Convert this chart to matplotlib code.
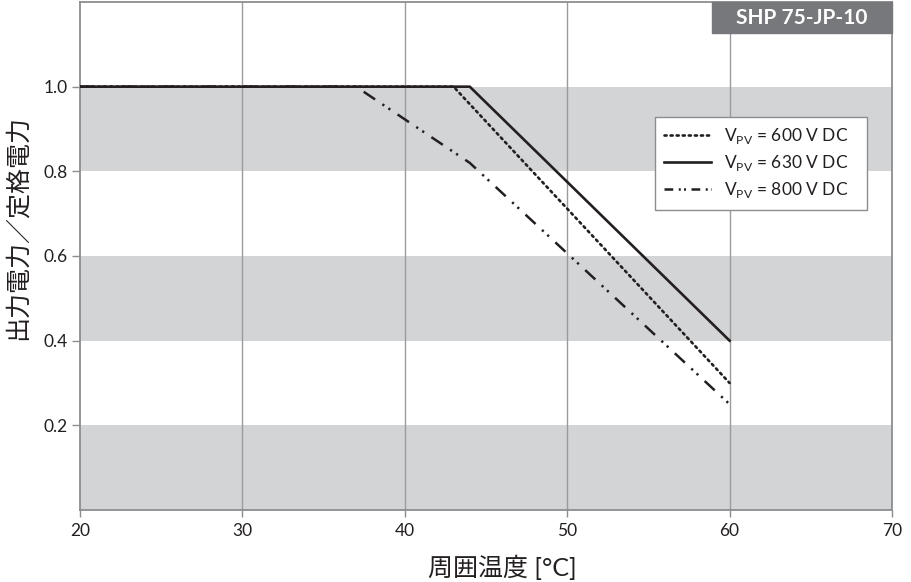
import matplotlib
matplotlib.use("Agg")
import matplotlib.pyplot as plt
from matplotlib.lines import Line2D

plt.rcParams['font.family'] = ['Lato', 'Noto Sans CJK JP', 'DejaVu Sans']

# data
temp_600 = [20, 43, 60]
power_600 = [1.0, 1.0, 0.30]
temp_630 = [20, 44, 60]
power_630 = [1.0, 1.0, 0.40]
temp_800 = [20, 37, 44, 60]
power_800 = [1.0, 1.0, 0.82, 0.25]
labels = ["600", "630", "800"]
x_ticks = [20, 30, 40, 50, 60, 70]
y_ticks = [0.2, 0.4, 0.6, 0.8, 1.0]
bands = [(0.0, 0.2), (0.4, 0.6), (0.8, 1.0)]
title = "SHP 75-JP-10"
xlabel = "周囲温度 [°C]"
ylabel = "出力電力／定格電力"

W, H = 911, 582
fig = plt.figure(figsize=(W / 100, H / 100), dpi=100)
ax = fig.add_axes([80 / W, 1 - 510 / H, (892 - 80) / W, (510 - 2) / H])
ax.set_xlim(20, 70)
ax.set_ylim(0, 1.2)

for lo, hi in bands:
    ax.axhspan(lo, hi, color='#d3d4d6', lw=0, zorder=0)

for xv in x_ticks[1:-1]:
    ax.axvline(xv, color='#9a9b9d', lw=1.0, zorder=1)

dark = '#231f20'
ax.plot(temp_600, power_600, color=dark, lw=1.9, linestyle=(0, (0.8, 1.5)),
        dash_capstyle='round', zorder=3)
ax.plot(temp_630, power_630, color=dark, lw=1.9, linestyle='-', zorder=3)
ax.plot(temp_800, power_800, color=dark, lw=1.8, linestyle=(0, (5.5, 3.5, 0.9, 2.0, 0.9, 3.5)),
        zorder=3)

for s in ax.spines.values():
    s.set_color('#8c8d8f')
    s.set_linewidth(1.3)

ax.set_xticks(x_ticks)
ax.set_xticklabels([str(v) for v in x_ticks])
ax.set_yticks(y_ticks)
ax.set_yticklabels([f"{v:.1f}" for v in y_ticks])
ax.tick_params(axis='both', colors='#8c8d8f', labelcolor='#231f20', labelsize=12.5,
               width=1)
ax.tick_params(axis='x', pad=4, length=5)
ax.tick_params(axis='y', pad=3, length=6)

ax.set_xlabel(xlabel, fontsize=18, color='#231f20', va='center')
ax.xaxis.set_label_coords((502 - 80) / 812, (510 - 567) / 508)
ax.set_ylabel(ylabel, fontsize=18, color='#231f20', va='center')
ax.yaxis.set_label_coords((17 - 80) / 812, (510 - 228) / 508)

handles = [
    Line2D([], [], color=dark, lw=1.9, linestyle=(0, (0.8, 1.5)), dash_capstyle='round'),
    Line2D([], [], color=dark, lw=1.9, linestyle='-'),
    Line2D([], [], color=dark, lw=1.8, linestyle=(0, (3.5, 2.2, 0.8, 1.3, 0.8, 2.2))),
]
leg_labels = [r"V$_{\mathregular{PV}}$ = " + v + " V DC   " for v in labels]
leg = ax.legend(handles, leg_labels, loc='upper left', bbox_to_anchor=(0.708, 0.774),
                frameon=True, fancybox=False, edgecolor='#8c8d8f', framealpha=1,
                fontsize=12.5, handlelength=2.7, handletextpad=0.75, borderpad=0.55,
                labelspacing=0.4, borderaxespad=0)
leg.get_frame().set_linewidth(1.0)
for t in leg.get_texts():
    t.set_color('#231f20')

# title box
fig.patches.append(plt.Rectangle((712 / W, 1 - 33 / H), (892 - 712) / W, 31 / H,
                                 transform=fig.transFigure, color='#77787b', zorder=5))
fig.text(802 / W, 1 - 18 / H, title, ha='center', va='center', color='white',
         fontsize=15, fontweight='bold', zorder=6)

fig.savefig("out.png", dpi=100)
